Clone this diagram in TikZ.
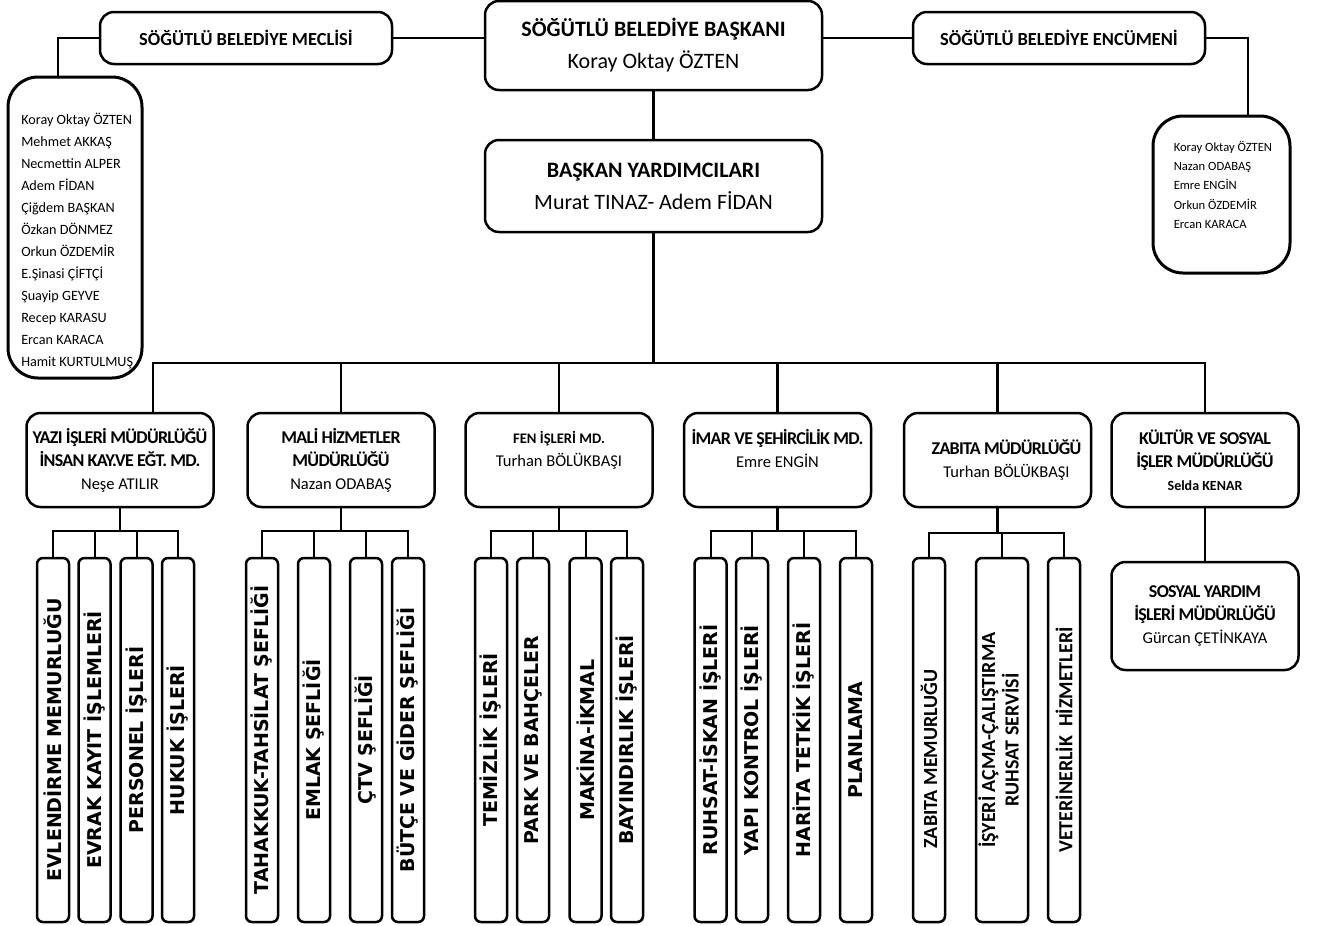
\documentclass[tikz,border=0pt]{standalone}
\usepackage{fontspec}
\usepackage{graphicx}
\setmainfont{Carlito}
\newfontfamily\altfont{DejaVu Sans}
\usetikzlibrary{positioning, calc}

\newcommand{\dik}[1]{\rotatebox{90}{#1}}
\newcommand{\baslik}[1]{{\fontsize{18}{23}\selectfont\bfseries\addfontfeature{LetterSpace=-4}#1}}

\begin{document}
\begin{tikzpicture}[x=1pt, y=-1pt, line width=2.5pt,
  kutu/.style={draw, rounded corners=14pt, align=center, inner sep=2pt},
  ustkutu/.style={kutu, minimum width=292pt, minimum height=52pt,
    font=\fontsize{18.4}{22}\selectfont\bfseries},
  baskankutu/.style={kutu, minimum width=337pt, minimum height=89pt,
    font=\fontsize{22}{32}\selectfont},
  mudkutu/.style={kutu, minimum width=187pt, minimum height=94pt,
    font=\fontsize{16.5}{23}\selectfont},
  listekutu/.style={draw, rounded corners=30pt, line width=3pt},
  birim/.style={draw, rounded corners=6pt, minimum width=32pt, minimum height=364pt,
    inner sep=0pt, font=\altfont\bfseries\fontsize{19}{21}\selectfont},
  zbirim/.style={birim, font=\bfseries\fontsize{20}{23}\selectfont},
  ince/.style={line width=2pt}]
  \useasboundingbox (0,0) rectangle (1320,926);

  % ust sira
  \node[ustkutu] (meclis) at (246,38) {SÖĞÜTLÜ BELEDİYE MECLİSİ};
  \node[baskankutu] (baskan) at (653.5,45.5)
    {\textbf{SÖĞÜTLÜ BELEDİYE BAŞKANI}\\Koray Oktay ÖZTEN};
  \node[ustkutu] (encumen) at (1059,38) {SÖĞÜTLÜ BELEDİYE ENCÜMENİ};
  \node[baskankutu, minimum height=92pt] (yardimci) at (653.5,186)
    {\textbf{BAŞKAN YARDIMCILARI}\\Murat TINAZ- Adem FİDAN};

  % uye listeleri
  \node[listekutu, minimum width=134pt, minimum height=301pt] (meclisliste) at (75,227.5) {};
  \node[anchor=north west, align=left, inner sep=0pt, font=\fontsize{14.2}{22}\selectfont]
    (meclisuyeler) at (20,112) {Koray Oktay ÖZTEN\\Mehmet AKKAŞ\\Necmettin ALPER\\Adem FİDAN\\
    Çiğdem BAŞKAN\\Özkan DÖNMEZ\\Orkun ÖZDEMİR\\E.Şinasi ÇİFTÇİ\\Şuayip GEYVE\\
    Recep KARASU\\Ercan KARACA\\Hamit KURTULMUŞ};
  \node[listekutu, minimum width=137pt, minimum height=157pt] (encumenliste) at (1221.5,194.5) {};
  \node[anchor=north west, align=left, inner sep=0pt, font=\fontsize{12.6}{19.3}\selectfont]
    (encumenuyeler) at (1172.5,140) {Koray Oktay ÖZTEN\\Nazan ODABAŞ\\Emre ENGİN\\
    Orkun ÖZDEMİR\\Ercan KARACA};

  \draw (meclis.east) -- (meclis.east -| baskan.west);
  \draw (encumen.west) -- (encumen.west -| baskan.east);
  \draw (meclis.west) -| ([xshift=-17pt]meclisliste.north);
  \draw (encumen.east) -| ([xshift=26.5pt]encumenliste.north);
  \draw (baskan.south) -- (yardimci.north);

  % mudurlukler
  \node[mudkutu] (yazi) at (120,460) {\baslik{YAZI İŞLERİ MÜDÜRLÜĞÜ}\\
    \baslik{İNSAN KAY.VE EĞT. MD.}\\Neşe ATILIR};
  \node[mudkutu] (mali) at (341,460) {\baslik{MALİ HİZMETLER}\\
    \baslik{MÜDÜRLÜĞÜ}\\Nazan ODABAŞ};
  \node[mudkutu] (fen) at (559,460) {{\fontsize{14.6}{23}\selectfont\bfseries FEN İŞLERİ MD.}\\
    Turhan BÖLÜKBAŞI\\\mbox{}};
  \node[mudkutu] (imar) at (777.5,460) {\baslik{İMAR VE ŞEHİRCİLİK MD.}\\Emre ENGİN\\\mbox{}};
  \node[mudkutu] (zabita) at (997.5,460) {\hspace*{18pt}\baslik{ZABITA MÜDÜRLÜĞÜ}\\
    \hspace*{18pt}Turhan BÖLÜKBAŞI};
  \node[mudkutu] (kultur) at (1205,460) {\baslik{KÜLTÜR VE SOSYAL}\\
    \baslik{İŞLER MÜDÜRLÜĞÜ}\\{\fontsize{14}{23}\selectfont\bfseries Selda KENAR}};
  \node[mudkutu, minimum height=108pt] (sosyal) at (1205,616) {\baslik{SOSYAL YARDIM}\\
    \baslik{İŞLERİ MÜDÜRLÜĞÜ}\\Gürcan ÇETİNKAYA};

  \coordinate (bus) at (653.5,363);
  \draw (yardimci.south) -- (bus);
  \draw ([xshift=33pt]yazi.north) |- (kultur.north |- bus) -- (kultur.north);
  \draw (mali.north) -- (mali.north |- bus);
  \draw (fen.north) -- (fen.north |- bus);
  \draw (imar.north) -- (imar.north |- bus);
  \draw (zabita.north) -- (zabita.north |- bus);
  \draw (kultur.south) -- (sosyal.north);

  % birimler
  \node[birim] (y1) at (53,740) {\dik{EVLENDİRME MEMURLUĞU}};
  \node[birim] (y2) at (94.5,740) {\dik{EVRAK KAYIT İŞLEMLERİ}};
  \node[birim] (y3) at (136.5,740) {\dik{PERSONEL İŞLERİ}};
  \node[birim] (y4) at (178,740) {\dik{HUKUK İŞLERİ}};

  \node[birim] (m1) at (262,740) {\dik{TAHAKKUK-TAHSİLAT ŞEFLİĞİ}};
  \node[birim] (m2) at (314,740) {\dik{EMLAK ŞEFLİĞİ}};
  \node[birim] (m3) at (366,740) {\dik{ÇTV ŞEFLİĞİ}};
  \node[birim] (m4) at (408,740) {\dik{BÜTÇE VE GİDER ŞEFLİĞİ}};

  \node[birim] (f1) at (491,740) {\dik{TEMİZLİK İŞLERİ}};
  \node[birim] (f2) at (533,740) {\dik{PARK VE BAHÇELER}};
  \node[birim] (f3) at (585.5,740) {\dik{MAKİNA-İKMAL}};
  \node[birim] (f4) at (627,740) {\dik{BAYINDIRLIK İŞLERİ}};

  \node[birim] (i1) at (710.5,740) {\dik{RUHSAT-İSKAN İŞLERİ}};
  \node[birim] (i2) at (752,740) {\dik{YAPI KONTROL İŞLERİ}};
  \node[birim] (i3) at (804,740) {\dik{HARİTA TETKİK İŞLERİ}};
  \node[birim] (i4) at (856,740) {\dik{PLANLAMA}};

  \node[zbirim] (z1) at (929,740) {\dik{ZABITA MEMURLUĞU\hspace*{38pt}}};
  \node[zbirim, minimum width=52pt] (z2) at (1002,740)
    {\dik{\begin{tabular}{@{}c@{}}İŞYERİ AÇMA-ÇALIŞTIRMA\\RUHSAT SERVİSİ\end{tabular}}};
  \node[zbirim] (z3) at (1064,740) {\dik{VETERİNERLİK\ \ HİZMETLERİ}};

  % birim baglantilari
  \draw (yazi.south) -- (yazi.south |- 0,531) coordinate (yb);
  \draw[ince] (y1.north) |- (yb) -| (y4.north);
  \draw[ince] (y2.north) -- (y2.north |- yb);
  \draw[ince] (y3.north) -- (y3.north |- yb);

  \draw (mali.south) -- (mali.south |- 0,531) coordinate (mb);
  \draw[ince] (m1.north) |- (mb) -| (m4.north);
  \draw[ince] (m2.north) -- (m2.north |- mb);
  \draw[ince] (m3.north) -- (m3.north |- mb);

  \draw (fen.south) -- (fen.south |- 0,531) coordinate (fb);
  \draw[ince] (f1.north) |- (fb) -| (f4.north);
  \draw[ince] (f2.north) -- (f2.north |- fb);
  \draw[ince] (f3.north) -- (f3.north |- fb);

  \draw (imar.south) -- (imar.south |- 0,531) coordinate (ib);
  \draw[ince] (i1.north) |- (ib) -| (i4.north);
  \draw[ince] (i2.north) -- (i2.north |- ib);
  \draw[ince] (i3.north) -- (i3.north |- ib);

  \draw (zabita.south) -- (zabita.south |- 0,533) coordinate (zb);
  \draw[ince] (z1.north) |- (zb) -| (z3.north);
  \draw[ince] (z2.north) -- (z2.north |- zb);
\end{tikzpicture}
\end{document}
